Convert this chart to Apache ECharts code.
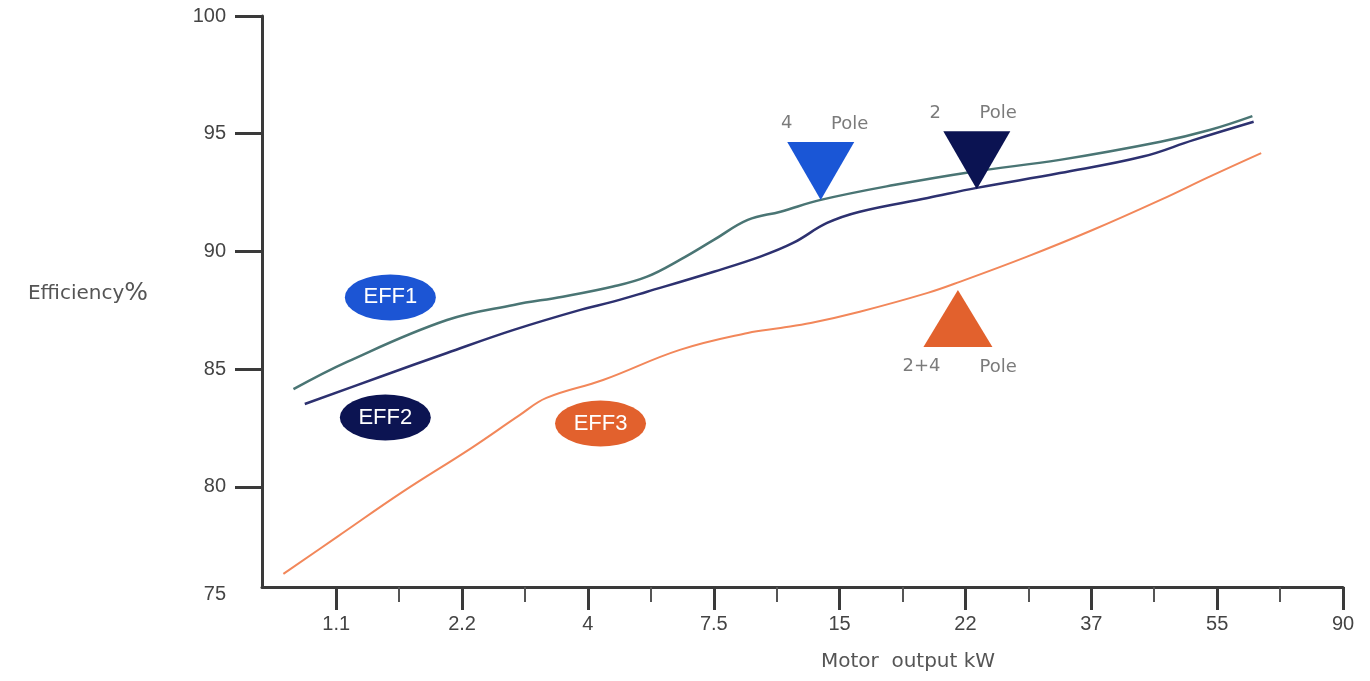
<!DOCTYPE html>
<html>
<head>
<meta charset="utf-8">
<title>Motor efficiency</title>
<script src="https://cdn.jsdelivr.net/npm/echarts@6/dist/echarts.min.js"></script>
<style>
  html, body { margin: 0; padding: 0; background: #fff; }
  #chart { width: 1370px; height: 681px; }
</style>
</head>
<body>
<div id="chart"></div>
<script>
// x positions are tick indexes: 1 = 1.1 kW ... 9 = 90 kW
const xLabels = ['1.1', '2.2', '4', '7.5', '15', '22', '37', '55', '90']
const yTicks = [80, 85, 90, 95, 100]
const yMin = 75.75 // x axis sits a little above the 75 line

const eff1X = [0.66, 1.09, 1.88, 2.41, 2.80, 3.20, 3.47, 3.73, 4.00, 4.27, 4.53, 4.85, 5.43, 6.06, 6.75, 7.55, 7.94, 8.28]
const eff1Y = [84.15, 85.32, 87.09, 87.73, 88.08, 88.51, 88.93, 89.64, 90.49, 91.34, 91.69, 92.19, 92.82, 93.39, 93.89, 94.66, 95.16, 95.75]

const eff2X = [0.75, 1.35, 1.88, 2.41, 2.94, 3.20, 3.47, 4.00, 4.37, 4.63, 4.90, 5.16, 5.70, 6.09, 6.75, 7.41, 7.81, 8.29]
const eff2Y = [83.52, 84.68, 85.69, 86.67, 87.52, 87.87, 88.29, 89.14, 89.78, 90.36, 91.21, 91.69, 92.27, 92.70, 93.33, 94.03, 94.73, 95.51]

const eff3X = [0.58, 1.01, 1.53, 2.07, 2.46, 2.67, 3.12, 3.73, 4.27, 4.53, 4.77, 5.16, 5.70, 5.96, 6.49, 7.01, 7.55, 7.94, 8.35]
const eff3Y = [76.31, 77.89, 79.80, 81.64, 83.06, 83.78, 84.54, 85.82, 86.54, 86.75, 86.96, 87.44, 88.24, 88.72, 89.78, 90.91, 92.19, 93.18, 94.18]

// EFF class badges
const badgeText = ['EFF1', 'EFF2', 'EFF3']
const badgeX = [1.43, 1.39, 3.10]
const badgeY = [88.05, 82.95, 82.69]
const badgeColor = ['#1c55d4', '#0c1452', '#e2612d']

// pole markers
const poleX = [4.85, 6.09, 5.94]
const poleY = [93.42, 93.87, 87.15]
const poleColor = ['#1a56d6', '#0b1352', '#e2612d']
const poleDown = [true, true, false]

const noteText = ['4', 'Pole', '2', 'Pole', '2+4', 'Pole']
const noteX = [4.58, 5.08, 5.76, 6.26, 5.65, 6.26]
const noteY = [95.44, 95.41, 95.87, 95.88, 85.11, 85.10]

const chart = echarts.init(document.getElementById('chart'))

const lineSeries = (name, xs, ys, color, width) => ({
  name: name,
  type: 'line',
  smooth: 0.4,
  showSymbol: false,
  silent: true,
  lineStyle: { color: color, width: width },
  data: xs.map((x, i) => [x, ys[i]]),
  z: 2
})

const option = {
  animation: false,
  backgroundColor: '#fff',
  grid: {
    left: 262,
    right: 27,
    top: 16,
    bottom: 94,
    outerBoundsMode: 'none'
  },
  xAxis: [
    {
      type: 'value',
      min: 0.41,
      max: 9,
      name: 'Motor  output kW',
      nameLocation: 'middle',
      nameGap: 65,
      nameTextStyle: {
        color: '#555',
        fontFamily: 'DejaVu Sans',
        fontSize: 20,
        padding: [0, 0, 0, 211]
      },
      axisLine: { lineStyle: { color: '#3a3a3a', width: 3 } },
      axisTick: {
        length: 23,
        customValues: xLabels.map((_, i) => i + 1),
        lineStyle: { color: '#3a3a3a', width: 3 }
      },
      axisLabel: {
        customValues: xLabels.map((_, i) => i + 1),
        formatter: (v) => xLabels[Math.round(v) - 1],
        margin: 27,
        color: '#444',
        fontFamily: 'Liberation Sans',
        fontSize: 20
      },
      splitLine: { show: false }
    },
    {
      // half-way minor ticks
      type: 'value',
      position: 'bottom',
      min: 0.41,
      max: 9,
      axisLine: { show: false },
      axisTick: {
        length: 15,
        customValues: xLabels.slice(1).map((_, i) => i + 1.5),
        lineStyle: { color: '#555', width: 2 }
      },
      axisLabel: { show: false },
      splitLine: { show: false }
    }
  ],
  yAxis: {
    type: 'value',
    min: yMin,
    max: 100,
    name: '{a|Efficiency}{b|%}',
    nameLocation: 'middle',
    nameRotate: 0,
    nameGap: 114,
    nameTextStyle: {
      padding: [0, 0, 16, 0],
      rich: {
        a: { color: '#555', fontFamily: 'DejaVu Sans', fontSize: 20 },
        b: { color: '#555', fontFamily: 'DejaVu Sans', fontSize: 25 }
      }
    },
    axisLine: { show: true, lineStyle: { color: '#3a3a3a', width: 3 } },
    axisTick: {
      show: true,
      length: 27,
      customValues: yTicks,
      lineStyle: { color: '#3a3a3a', width: 3 }
    },
    axisLabel: {
      customValues: [yMin].concat(yTicks),
      formatter: (v) => (v < 76 ? '{low|75}' : String(v)),
      margin: 36,
      color: '#444',
      fontFamily: 'Liberation Sans',
      fontSize: 20,
      rich: {
        low: { color: '#444', fontFamily: 'Liberation Sans', fontSize: 20, padding: [14, 0, 0, 0] }
      }
    },
    splitLine: { show: false }
  },
  series: [
    lineSeries('EFF1', eff1X, eff1Y, '#4a7574', 2.5),
    lineSeries('EFF2', eff2X, eff2Y, '#2d3170', 2.5),
    lineSeries('EFF3', eff3X, eff3Y, '#f2875a', 2),
    {
      name: 'badges',
      type: 'scatter',
      silent: true,
      z: 4,
      symbol: 'circle',
      symbolSize: [91, 46],
      data: badgeText.map((t, i) => ({
        name: t,
        value: [badgeX[i], badgeY[i]],
        itemStyle: { color: badgeColor[i], opacity: 1 }
      })),
      label: {
        show: true,
        position: 'inside',
        formatter: '{b}',
        color: '#fff',
        fontFamily: 'Liberation Sans',
        fontSize: 22
      }
    },
    {
      name: 'poles',
      type: 'scatter',
      silent: true,
      z: 5,
      symbol: 'triangle',
      data: poleX.map((x, i) => ({
        value: [x, poleY[i]],
        symbolSize: i === 2 ? [69, 57] : [67, 58],
        symbolRotate: poleDown[i] ? 180 : 0,
        itemStyle: { color: poleColor[i], opacity: 1 }
      }))
    },
    {
      name: 'notes',
      type: 'scatter',
      silent: true,
      z: 5,
      symbolSize: 0,
      data: noteText.map((t, i) => ({ name: t, value: [noteX[i], noteY[i]] })),
      label: {
        show: true,
        position: 'inside',
        formatter: '{b}',
        color: '#5a5a5a',
        fontFamily: 'DejaVu Sans',
        fontSize: 18
      }
    }
  ]
}

chart.setOption(option)
</script>
</body>
</html>
